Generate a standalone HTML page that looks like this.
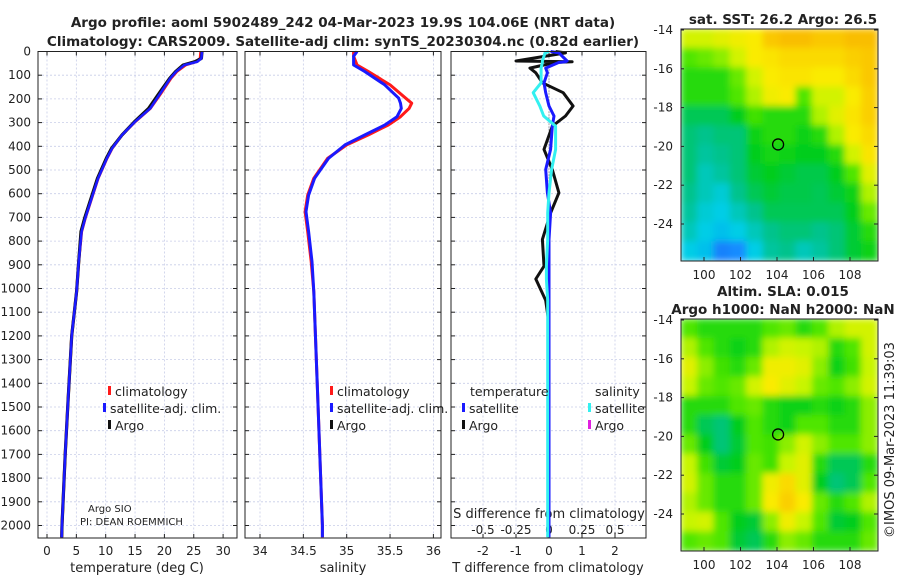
<!DOCTYPE html>
<html><head><meta charset="utf-8"><style>
body{margin:0;background:#fff;}
svg text{font-family:"DejaVu Sans","Liberation Sans",sans-serif;fill:#222;}
</style></head><body>
<svg id="fig" width="900" height="580" xmlns="http://www.w3.org/2000/svg">
<defs>
<filter id="blur" x="0" y="0" width="1" height="1"><feGaussianBlur stdDeviation="3.5"/></filter>
<clipPath id="clipSST"><rect x="681" y="29" width="197" height="232"/></clipPath>
<clipPath id="clipSLA"><rect x="681" y="319" width="197" height="232"/></clipPath>
</defs>
<text x="343" y="27" text-anchor="middle" font-size="13.5" font-weight="bold">Argo profile: aoml 5902489_242 04-Mar-2023 19.9S 104.06E (NRT data)</text>
<text x="343" y="46" text-anchor="middle" font-size="13.5" font-weight="bold">Climatology: CARS2009. Satellite-adj clim: synTS_20230304.nc (0.82d earlier)</text>
<g id="layer"></g>
</svg>
<script>
// ---- data ----
const depths=[0,29,43,57,85,113,169,240,296,352,408,451,535,620,704,760,887,1013,1200,1470,1700,2000,2050];
const argoTemp=[26.4,26.3,25.2,23.2,21.9,20.9,19.3,17.3,14.9,12.8,11.0,10.1,8.6,7.5,6.4,5.8,5.4,5.05,4.2,3.6,3.1,2.55,2.5];
const climTemp=[26.2,26.1,25.4,23.6,22.1,21.1,19.6,17.6,15.0,12.8,11.1,10.2,8.7,7.6,6.5,5.9,5.4,5.05,4.2,3.6,3.1,2.55,2.5];
const satTemp=[26.4,26.3,25.6,23.4,22.0,21.0,19.5,17.6,15.0,12.8,11.1,10.2,8.7,7.6,6.5,5.9,5.4,5.05,4.2,3.6,3.1,2.55,2.5];
const salDepths=[0,20,57,85,141,197,218,240,275,310,352,394,451,535,606,676,760,887,1013,1500,2000,2050];
const climSal=[35.08,35.08,35.12,35.25,35.5,35.68,35.75,35.72,35.62,35.48,35.25,35.0,34.78,34.62,34.55,34.52,34.55,34.59,34.62,34.67,34.72,34.72];
const satSal=[35.12,35.08,35.08,35.21,35.44,35.6,35.62,35.63,35.58,35.44,35.21,34.98,34.79,34.63,34.56,34.53,34.56,34.6,34.62,34.67,34.72,34.72];
const diffDepths=[0,6,40,43,46,70,90,132,174,230,272,315,413,498,596,681,793,906,960,1050,1150,1500,2050];
const argoTdiff=[0.2,0.5,-1.0,0.7,0.2,-0.58,-0.4,-0.2,0.43,0.73,0.5,0.1,-0.15,0.1,0.3,0.05,-0.2,-0.15,-0.4,-0.1,0,0,0];
const satTdiff=[0.05,0.3,0.55,0.5,0.3,-0.1,-0.05,-0.15,-0.1,0.0,0.15,0.1,0.05,-0.1,-0.05,0.05,0.0,0.0,0.0,0.0,0.0,0.0,0.0];
const satSdiff=[0,-0.03,-0.05,-0.05,-0.05,-0.06,-0.06,-0.06,-0.12,-0.07,-0.04,0.05,0.05,0.02,0.0,-0.01,-0.01,-0.02,-0.02,-0.01,-0.01,-0.01,-0.01];
const depthTicks=[0,100,200,300,400,500,600,700,800,900,1000,1100,1200,1300,1400,1500,1600,1700,1800,1900,2000];
const tempTicks=[0,5,10,15,20,25,30];
const salTicks=[34,34.5,35,35.5,36];
const tdiffTicks=[-2,-1,0,1,2];
const sdiffTicks=[-0.5,-0.25,0,0.25,0.5];
const sdiffTickLabels=["-0.5","-0.25","0","0.25","0.5"];
const lonTicks=[100,102,104,106,108];
const latTicks=[-14,-16,-18,-20,-22,-24];
const sstGrid=[
[0.72,0.72,0.75,0.78,0.8,0.9,0.92,0.92,0.9,0.9,0.92,0.92],
[0.6,0.62,0.65,0.72,0.8,0.82,0.85,0.85,0.85,0.85,0.88,0.9],
[0.55,0.55,0.55,0.62,0.72,0.8,0.82,0.82,0.8,0.8,0.85,0.9],
[0.55,0.55,0.55,0.6,0.68,0.78,0.8,0.6,0.72,0.72,0.8,0.88],
[0.45,0.45,0.45,0.5,0.58,0.55,0.55,0.55,0.68,0.75,0.82,0.88],
[0.42,0.4,0.42,0.42,0.52,0.55,0.55,0.52,0.55,0.68,0.8,0.85],
[0.42,0.38,0.4,0.42,0.5,0.53,0.52,0.5,0.5,0.55,0.72,0.82],
[0.42,0.35,0.38,0.42,0.48,0.5,0.48,0.46,0.46,0.5,0.6,0.75],
[0.4,0.35,0.32,0.4,0.45,0.48,0.46,0.46,0.45,0.48,0.52,0.68],
[0.38,0.32,0.3,0.35,0.4,0.45,0.45,0.45,0.45,0.45,0.5,0.62],
[0.35,0.3,0.28,0.3,0.35,0.4,0.42,0.42,0.4,0.42,0.48,0.55],
[0.3,0.28,0.18,0.2,0.3,0.38,0.4,0.35,0.38,0.42,0.48,0.52]];
const slaGrid=[
[0.6,0.55,0.55,0.55,0.55,0.6,0.62,0.55,0.6,0.68,0.72,0.72],
[0.68,0.6,0.55,0.52,0.55,0.68,0.72,0.7,0.68,0.55,0.6,0.72],
[0.75,0.65,0.58,0.55,0.62,0.78,0.78,0.75,0.65,0.52,0.58,0.7],
[0.7,0.62,0.6,0.62,0.72,0.8,0.75,0.7,0.62,0.6,0.65,0.72],
[0.55,0.55,0.55,0.6,0.62,0.55,0.52,0.52,0.55,0.52,0.55,0.65],
[0.55,0.45,0.42,0.5,0.6,0.55,0.52,0.6,0.6,0.55,0.55,0.65],
[0.62,0.5,0.42,0.48,0.6,0.58,0.65,0.72,0.65,0.6,0.6,0.65],
[0.7,0.58,0.48,0.5,0.62,0.58,0.7,0.75,0.55,0.45,0.45,0.55],
[0.72,0.62,0.55,0.55,0.62,0.78,0.85,0.75,0.5,0.42,0.45,0.6],
[0.68,0.62,0.55,0.55,0.62,0.8,0.88,0.8,0.62,0.55,0.6,0.68],
[0.7,0.72,0.6,0.5,0.48,0.65,0.78,0.7,0.6,0.48,0.5,0.6],
[0.6,0.62,0.6,0.48,0.45,0.55,0.65,0.62,0.55,0.55,0.55,0.62]];
const floatLon=104.06, floatLat=-19.9;

// ---- helpers ----
const NS="http://www.w3.org/2000/svg";
const L=document.getElementById('layer');
function mk(tag,attrs,parent){const e=document.createElementNS(NS,tag);for(const k in attrs)e.setAttribute(k,attrs[k]);(parent||L).appendChild(e);return e;}
function txt(x,y,s,size,anchor){const t=mk('text',{x:x,y:y,'font-size':size||12,'text-anchor':anchor||'middle'});t.textContent=s;return t;}
const yTop=51.5, yBot=538;
const yD=d=>yTop+d*0.237;
const xT=v=>47+v*5.87;
const xS=v=>260+(v-34)*86.7;
const xTd=v=>549+v*33;
const xSd=v=>549+v*132;
const panels=[{x0:38,x1:237,name:'temperature-panel'},{x0:245,x1:441,name:'salinity-panel'},{x0:451,x1:646,name:'difference-panel'}];

panels.forEach((p,i)=>{
  const g=mk('g',{});
  
  
  mk('rect',{x:p.x0,y:yTop,width:p.x1-p.x0,height:yBot-yTop,fill:'#fff',stroke:'none'},g);
  depthTicks.forEach(d=>{
    mk('line',{x1:p.x0,x2:p.x1,y1:yD(d),y2:yD(d),stroke:'#c8cde8','stroke-width':0.8,'stroke-dasharray':'2,2'},g);
    mk('line',{x1:p.x0,x2:p.x0+4,y1:yD(d),y2:yD(d),stroke:'#222'},g);
    mk('line',{x1:p.x1-4,x2:p.x1,y1:yD(d),y2:yD(d),stroke:'#222'},g);
  });
  const ticks=i==0?tempTicks.map(xT):i==1?salTicks.map(xS):tdiffTicks.map(xTd);
  ticks.forEach(x=>{
    mk('line',{x1:x,x2:x,y1:yTop,y2:yBot,stroke:'#c8cde8','stroke-width':0.8,'stroke-dasharray':'2,2'},g);
    mk('line',{x1:x,x2:x,y1:yBot-4,y2:yBot,stroke:'#222'},g);
    mk('line',{x1:x,x2:x,y1:yTop,y2:yTop+4,stroke:'#222'},g);
  });
});
depthTicks.forEach(d=>{const t=txt(31,yD(d)+4,String(d),12,'end');});
tempTicks.forEach(v=>{const t=txt(xT(v),555,String(v),12);});
salTicks.forEach(v=>{const t=txt(xS(v),555,String(v),12);});
tdiffTicks.forEach(v=>{const t=txt(xTd(v),555,String(v),12);});
sdiffTicks.forEach((v,i)=>{const t=txt(xSd(v),534,sdiffTickLabels[i],12);});
let t;
t=txt(137,572,'temperature (deg C)',13);
t=txt(343,572,'salinity',13);
t=txt(548,572,'T difference from climatology',13);
t=txt(549,518,'S difference from climatology',13);

function line(xs,ds,fx,color,w,name){
  const pts=xs.map((v,i)=>fx(v).toFixed(1)+','+yD(ds[i]).toFixed(1)).join(' ');
  const pl=mk('polyline',{points:pts,fill:'none',stroke:color,'stroke-width':w,'stroke-linejoin':'round'});
  
  
}
line(climTemp,depths,xT,'#ff1a1a',3,'temp-climatology-line');
line(argoTemp,depths,xT,'#111',3.2,'temp-argo-line');
line(satTemp,depths,xT,'#1a1aff',2.6,'temp-satellite-line');
line(climSal,salDepths,xS,'#ff1a1a',3,'sal-climatology-line');
line(satSal,salDepths,xS,'#1a1aff',3,'sal-satellite-line');
mk('line',{x1:549,x2:549,y1:yTop,y2:yBot,stroke:'#666','stroke-dasharray':'1,2'});
line(argoTdiff,diffDepths,xTd,'#111',3,'tdiff-argo-line');
line(satTdiff,diffDepths,xTd,'#1a1aff',3,'tdiff-satellite-line');
line(satSdiff,diffDepths,xSd,'#33f0f0',3,'sdiff-satellite-line');

panels.forEach(p=>{mk('rect',{x:p.x0,y:yTop,width:p.x1-p.x0,height:yBot-yTop,fill:'none',stroke:'#222','stroke-width':1});});

function legend(x,y,color,label,name){
  const g=mk('g',{});
  
  
  mk('rect',{x:x,y:y-10,width:3,height:9,fill:color},g);
  const tt=mk('text',{x:x+7,y:y,'font-size':12.5},g);tt.textContent=label;
}
legend(108,396,'#ff1a1a','climatology','legend-climatology');
legend(103,413,'#1a1aff','satellite-adj. clim.','legend-satellite-adj');
legend(108,430,'#111','Argo','legend-argo');
legend(330,396,'#ff1a1a','climatology','legend-sal-climatology');
legend(330,413,'#1a1aff','satellite-adj. clim.','legend-sal-satellite-adj');
legend(330,430,'#111','Argo','legend-sal-argo');
t=txt(470,396,'temperature',12.5,'start');
t=txt(595,396,'salinity',12.5,'start');
legend(462,413,'#1a1aff','satellite','legend-tdiff-satellite');
legend(462,430,'#111','Argo','legend-tdiff-argo');
legend(588,413,'#33f0f0','satellite','legend-sdiff-satellite');
legend(588,430,'#e020e0','Argo','legend-sdiff-argo');
t=txt(88,512,'Argo SIO',10,'start');
t=txt(80,525,'PI: DEAN ROEMMICH',10,'start');

// ---- maps ----
function cmap(v){
  const stops=[[0,[20,40,220]],[0.2,[20,140,255]],[0.3,[0,205,230]],[0.4,[0,195,140]],[0.5,[0,205,30]],[0.6,[80,230,0]],[0.7,[200,245,0]],[0.8,[250,235,0]],[0.9,[250,200,0]],[1,[245,150,0]]];
  for(let i=1;i<stops.length;i++){if(v<=stops[i][0]){const a=stops[i-1],b=stops[i],f=(v-a[0])/(b[0]-a[0]);return 'rgb('+a[1].map((c,k)=>Math.round(c+(b[1][k]-c)*f)).join(',')+')';}}
  return 'rgb(245,150,0)';
}
const mx0=681,mx1=878;
const xLon=lon=>704+(lon-100)*18.25;
function drawMap(grid,y0,clip,name,titles){
  const yLat=lat=>y0+1+(-14-lat)*19.4;
  const g=mk('g',{'clip-path':'url(#'+clip+')'});
  
  
  const inner=mk('g',{filter:'url(#blur)'},g);
  const rows=grid.length,cols=grid[0].length,cw=(mx1-mx0)/cols,ch=232/rows;
  mk('rect',{x:mx0,y:y0,width:mx1-mx0,height:232,fill:cmap(0.5)},inner);
  grid.forEach((row,r)=>row.forEach((v,c)=>{
    const cell=mk('rect',{x:mx0+c*cw-0.5,y:y0+r*ch-0.5,width:cw+1,height:ch+1,fill:cmap(v)},inner);
    
    
  }));
  mk('rect',{x:mx0,y:y0,width:mx1-mx0,height:232,fill:'none',stroke:'#222'});
  const c=mk('ellipse',{cx:xLon(floatLon),cy:yLat(floatLat),rx:5.5,ry:5.5,fill:'none',stroke:'#000','stroke-width':1.3});
  
  
  latTicks.forEach(l=>{const y=yLat(l);mk('line',{x1:mx1-4,x2:mx1,y1:y,y2:y,stroke:'#222'});mk('line',{x1:mx0,x2:mx0+3,y1:y,y2:y,stroke:'#222'});
    const tl=txt(673,y+4,String(l),12,'end');});
  lonTicks.forEach(l=>{const x=xLon(l);mk('line',{x1:x,x2:x,y1:y0+232-4,y2:y0+232,stroke:'#222'});
    const tl=txt(x,y0+250,String(l),12);});
  titles.forEach((s,i)=>{const tl=txt(783,titles.length==1?y0-5:y0-23+i*18,s,13.5);tl.setAttribute('font-weight','bold');});
}
drawMap(sstGrid,29,'clipSST','sst-map',['sat. SST: 26.2 Argo: 26.5']);
drawMap(slaGrid,319,'clipSLA','sla-map',['Altim. SLA: 0.015','Argo h1000: NaN h2000: NaN']);
t=txt(0,0,'©IMOS 09-Mar-2023 11:39:03',13);
t.setAttribute('transform','translate(894,440) rotate(-90)');


</script>
</body></html>
